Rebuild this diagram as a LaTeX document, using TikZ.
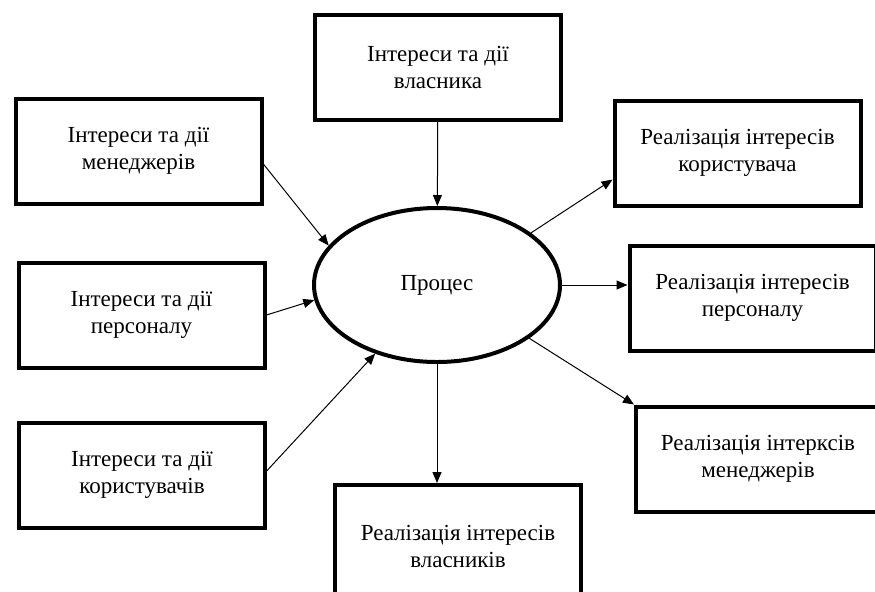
\documentclass[tikz,border=0pt]{standalone}
\usepackage{fontspec}
\setmainfont{Liberation Serif}
\usepackage{tikz}
\usetikzlibrary{shapes, arrows.meta, positioning, calc}

\begin{document}
\begin{tikzpicture}[x=0.5pt, y=-0.5pt,
    box/.style={draw, line width=2pt, minimum width=123pt, minimum height=52.5pt, align=center, font=\fontsize{11.5}{13.5}\selectfont},
    proc/.style={draw, ellipse, line width=2pt, minimum width=123pt, minimum height=77pt, font=\fontsize{11.5}{13.5}\selectfont},
    link/.style={-{Triangle[length=5.5pt, width=4.5pt]}, line width=0.5pt}]
  \useasboundingbox (0,0) rectangle (875,591);
  \clip (0,0) rectangle (875,591);
  % centre
  \node[proc] (process) at (437,285) {Процес};
  % inputs
  \node[box] (owner) at (438,67) {Інтереси та дії\\власника};
  \node[box] (mgr) at (138.5,151) {Інтереси та дії\\менеджерів};
  \node[box] (staff) at (141.5,315) {Інтереси та дії\\персоналу};
  \node[box] (users) at (142,475) {Інтереси та дії\\користувачів};
  % results
  \node[box] (resUsers) at (737.5,153) {Реалізація інтересів\\користувача};
  \node[box] (resStaff) at (752.5,298) {Реалізація інтересів\\персоналу};
  \node[box, minimum width=122pt] (resMgr) at (758,459) {Реалізація інтерксів\\менеджерів};
  \node[box, minimum height=61pt] (resOwner) at (458,546) {Реалізація інтересів\\власників};

  \draw[link] (owner) -- (process);
  \draw[link] (mgr.-6) -- (process.160);
  \draw[link] (staff.east) -- (process.187);
  \draw[link] (users.2) -- (process.228);
  \draw[link] (process.29) -- (resUsers.192);
  \draw[link] (process.east) -- (process.east -| resStaff.west);
  \draw[link] (process.-30) -- (resMgr.north west);
  \draw[link] (process.south) -- (process.south |- resOwner.north);
\end{tikzpicture}
\end{document}
